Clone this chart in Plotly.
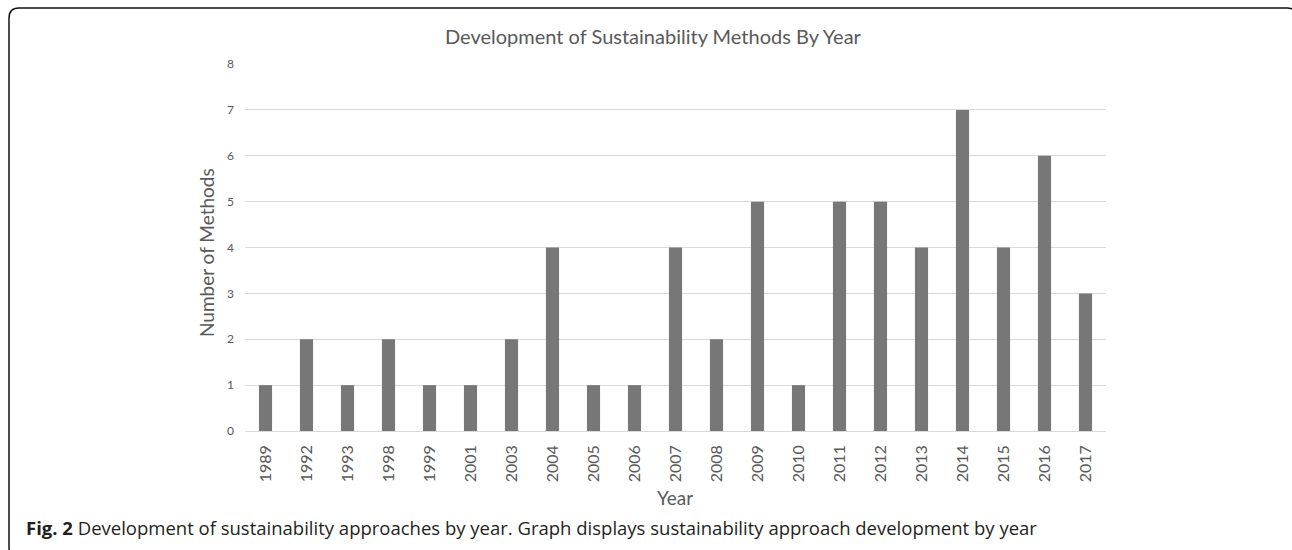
import plotly.graph_objects as go

years = ["1989", "1992", "1993", "1998", "1999", "2001", "2003", "2004", "2005", "2006",
         "2007", "2008", "2009", "2010", "2011", "2012", "2013", "2014", "2015", "2016", "2017"]
counts = [1, 2, 1, 2, 1, 1, 2, 4, 1, 1, 4, 2, 5, 1, 5, 5, 4, 7, 4, 6, 3]
y_ticks = [0, 1, 2, 3, 4, 5, 6, 7, 8]

title_text = "Development of Sustainability Methods By Year"
y_title = "Number of Methods"
x_title = "Year"
caption_bold = "Fig. 2"
caption_text = " Development of sustainability approaches by year. Graph displays sustainability approach development by year"

W, H = 1292, 550
L, R, T, B = 245, 1106, 64, 431  # plot area in pixels

def px(x):
    return (x - L) / (R - L)

def py(y):
    return (B - y) / (B - T)

fig = go.Figure()
fig.add_trace(go.Bar(x=years, y=counts, marker=dict(color="#777777", line=dict(width=0)),
                     hoverinfo="x+y"))

axis_font = "Lato, 'Open Sans', sans-serif"
fig.update_layout(
    width=W, height=H,
    margin=dict(l=L, r=W - R, t=T, b=H - B, pad=0),
    paper_bgcolor="white", plot_bgcolor="white",
    bargap=0.68,
    showlegend=False,
    xaxis=dict(type="category", tickangle=-90, showgrid=False, showline=False, zeroline=False,
               ticks="", ticklabelstandoff=10,
               tickfont=dict(family=axis_font, size=16, color="#595959")),
    yaxis=dict(range=[0, 8], tickvals=y_ticks, showgrid=True, gridcolor="#d9d9d9", gridwidth=1,
               zeroline=True, zerolinecolor="#d9d9d9", zerolinewidth=1, showline=False,
               ticks="", ticklabelstandoff=10,
               tickfont=dict(family=axis_font, size=12, color="#595959")),
)

# Title, axis titles, caption
fig.add_annotation(text=title_text, xref="paper", yref="paper", x=px(653), y=py(36),
                   xanchor="center", yanchor="middle", showarrow=False,
                   font=dict(family=axis_font, size=20, color="#595959"))
fig.add_annotation(text=y_title, xref="paper", yref="paper", x=px(207), y=py(253),
                   xanchor="center", yanchor="middle", showarrow=False, textangle=-90,
                   font=dict(family=axis_font, size=19, color="#595959"))
fig.add_annotation(text=x_title, xref="paper", yref="paper", x=px(675), y=py(497),
                   xanchor="center", yanchor="middle", showarrow=False,
                   font=dict(family=axis_font, size=19, color="#595959"))
fig.add_annotation(text="<b>" + caption_bold + "</b>" + caption_text, xref="paper", yref="paper",
                   x=px(24), y=py(527), xanchor="left", yanchor="middle", showarrow=False,
                   font=dict(family="'Open Sans', 'Noto Sans', sans-serif", size=18.5, color="#231f20"))

# Rounded border frame (right and bottom sides run past the image edge)
x0, x1, y0, y1, r = 9, 1297, 8, 557, 10
path = (f"M {px(x0)},{py(y0 + r)} "
        f"Q {px(x0)},{py(y0)} {px(x0 + r)},{py(y0)} "
        f"L {px(x1 - r)},{py(y0)} "
        f"Q {px(x1)},{py(y0)} {px(x1)},{py(y0 + r)} "
        f"L {px(x1)},{py(y1 - r)} "
        f"Q {px(x1)},{py(y1)} {px(x1 - r)},{py(y1)} "
        f"L {px(x0 + r)},{py(y1)} "
        f"Q {px(x0)},{py(y1)} {px(x0)},{py(y1 - r)} Z")
fig.add_shape(type="path", path=path, xref="paper", yref="paper",
              line=dict(color="#111111", width=1.5), fillcolor="rgba(0,0,0,0)", layer="above")

fig.write_html("out.html", config={"displayModeBar": False},
               post_script="document.body.style.margin='0';document.body.style.overflow='hidden';")
